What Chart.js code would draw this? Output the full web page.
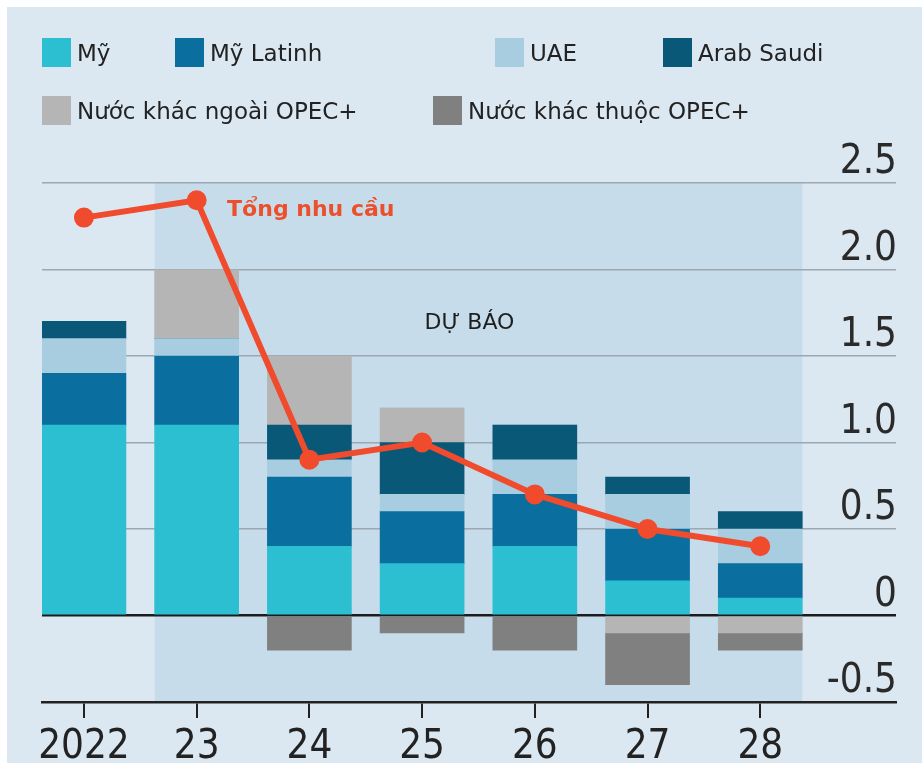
<!DOCTYPE html>
<html>
<head>
<meta charset="utf-8">
<script src="https://cdn.jsdelivr.net/npm/chart.js@4.4.1/dist/chart.umd.min.js"></script>
<style>
    html, body { margin: 0; padding: 0; background: #fff; overflow: hidden; }
    #frame { position: absolute; left: 7px; top: 7px; width: 915px; height: 756px; background: #dbe8f1; }
    #chartBox { position: absolute; left: 0; top: 0; width: 922px; height: 770px; overflow: hidden; }
    .legend-item { position: absolute; display: flex; align-items: center; font-family: "DejaVu Sans", sans-serif; font-size: 23px; color: #222; white-space: nowrap; }
    .legend-item .box { width: 29px; height: 29px; margin-right: 6px; }
</style>
</head>
<body>
<div id="frame"></div>
<div id="chartBox"><canvas id="supplyChart" width="922" height="778"></canvas></div>
<div id="legend"></div>
<script>
// Data (mb/d change)
const years = ['2022', '23', '24', '25', '26', '27', '28'];
const usa = [1.1, 1.1, 0.4, 0.3, 0.4, 0.2, 0.1];
const latinAmerica = [0.3, 0.4, 0.4, 0.3, 0.3, 0.3, 0.2];
const uae = [0.2, 0.1, 0.1, 0.1, 0.2, 0.2, 0.2];
const saudiArabia = [0.1, 0, 0.2, 0.3, 0.2, 0.1, 0.1];
const otherNonOpec = [0, 0.4, 0.4, 0.2, 0, -0.1, -0.1];
const otherOpec = [0, 0, -0.2, -0.1, -0.2, -0.3, -0.1];
const totalDemand = [2.3, 2.4, 0.9, 1.0, 0.7, 0.5, 0.4];
const yTicks = [-0.5, 0, 0.5, 1, 1.5, 2, 2.5];
const yTickLabels = ['-0.5', '0', '0.5', '1.0', '1.5', '2.0', '2.5'];

const seriesNames = ['Mỹ', 'Mỹ Latinh', 'UAE', 'Arab Saudi', 'Nước khác ngoài OPEC+', 'Nước khác thuộc OPEC+'];
const seriesColors = ['#2cbfd1', '#0a6e9f', '#a8cde0', '#0a5878', '#b5b5b5', '#808080'];
const seriesData = [usa, latinAmerica, uae, saudiArabia, otherNonOpec, otherOpec];

// legend (html)
const legendPos = [[42, 38], [175, 38], [495, 38], [663, 38], [42, 96], [433, 96]];
const legendEl = document.getElementById('legend');
seriesNames.forEach(function (name, i) {
    const item = document.createElement('div');
    item.className = 'legend-item';
    item.style.left = legendPos[i][0] + 'px';
    item.style.top = legendPos[i][1] + 'px';
    item.innerHTML = '<span class="box" style="background:' + seriesColors[i] + '"></span><span>' + name + '</span>';
    legendEl.appendChild(item);
});

const toPoints = arr => arr.map((v, i) => ({ x: i, y: v }));

// shaded forecast block + text labels
const forecastShade = {
    id: 'forecastShade',
    beforeDraw(chart) {
        const { ctx, chartArea } = chart;
        const bars = chart.getDatasetMeta(1).data;
        const first = bars[1];
        const last = bars[bars.length - 1];
        const left = first.x - first.width / 2;
        const right = last.x + last.width / 2;
        ctx.save();
        ctx.fillStyle = '#c7dcea';
        ctx.fillRect(left, chartArea.top, right - left, chartArea.bottom - chartArea.top);
        ctx.restore();
    },
    afterDatasetsDraw(chart) {
        const { ctx, scales } = chart;
        ctx.save();
        ctx.textBaseline = 'middle';
        ctx.fillStyle = '#1e1e1e';
        ctx.font = '22px "DejaVu Sans", sans-serif';
        ctx.textAlign = 'center';
        ctx.fillText('DỰ BÁO', scales.x.getPixelForValue(3.42), scales.y.getPixelForValue(1.69));
        ctx.fillStyle = '#ec4f2c';
        ctx.font = 'bold 22px "DejaVu Sans", sans-serif';
        ctx.textAlign = 'left';
        ctx.fillText('Tổng nhu cầu', scales.x.getPixelForValue(1.27), scales.y.getPixelForValue(2.34));
        ctx.restore();
    }
};

const fontFamily = '"Liberation Sans Narrow", "DejaVu Sans Condensed", sans-serif';

const datasets = [{
    type: 'line',
    label: 'Tổng nhu cầu',
    data: toPoints(totalDemand),
    borderColor: '#f04b2c',
    backgroundColor: '#f04b2c',
    borderWidth: 6,
    pointRadius: 7,
    pointHoverRadius: 7,
    tension: 0,
    stack: 'demand'
}];
seriesNames.forEach(function (name, i) {
    datasets.push({
        type: 'bar',
        label: name,
        data: toPoints(seriesData[i]),
        backgroundColor: seriesColors[i],
        borderWidth: 0,
        barThickness: 84,
        stack: 'supply'
    });
});

const ctx = document.getElementById('supplyChart').getContext('2d');
new Chart(ctx, {
    data: { datasets: datasets },
    plugins: [forecastShade],
    options: {
        responsive: false,
        animation: false,
        layout: { padding: { left: 42, right: 24, top: 183, bottom: 0 } },
        plugins: {
            legend: { display: false },
            tooltip: { enabled: false }
        },
        scales: {
            x: {
                type: 'linear',
                min: -0.372,
                max: 7.204,
                offset: false,
                stacked: true,
                afterBuildTicks: scale => { scale.ticks = years.map((_, i) => ({ value: i })); },
                ticks: {
                    callback: v => years[v],
                    font: { family: fontFamily, size: 40 },
                    color: '#222',
                    padding: 6,
                    maxRotation: 0,
                    autoSkip: false
                },
                grid: { offset: false, drawOnChartArea: false, tickLength: 16, color: '#222', lineWidth: 2 },
                border: { display: true, color: '#222', width: 2.5 }
            },
            y: {
                position: 'right',
                min: -0.5,
                max: 2.5,
                stacked: true,
                afterBuildTicks: scale => { scale.ticks = yTicks.map(v => ({ value: v })); },
                ticks: {
                    mirror: true,
                    padding: 1,
                    labelOffset: -20,
                    callback: v => yTickLabels[yTicks.indexOf(v)],
                    font: { family: fontFamily, size: 40 },
                    color: '#2a2a2a'
                },
                grid: {
                    drawTicks: false,
                    color: c => c.tick.value === 0 ? '#1c1c1c' : '#9ba8b2',
                    lineWidth: c => c.tick.value === 0 ? 2.5 : 1.5
                },
                border: { display: false }
            }
        }
    }
});
</script>
</body>
</html>
